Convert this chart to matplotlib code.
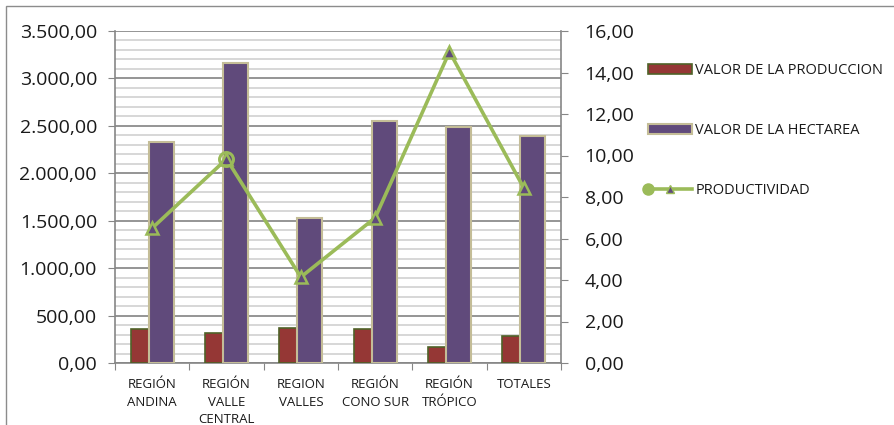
import matplotlib
matplotlib.use("Agg")
import matplotlib.pyplot as plt
import numpy as np
from matplotlib.ticker import MultipleLocator, FuncFormatter
from matplotlib.lines import Line2D
from matplotlib.patches import Rectangle
from matplotlib.legend_handler import HandlerBase

plt.rcParams['font.family'] = ['Open Sans', 'DejaVu Sans']

categories = ["REGIÓN\nANDINA", "REGIÓN\nVALLE\nCENTRAL", "REGION\nVALLES",
              "REGIÓN\nCONO SUR", "REGIÓN\nTRÓPICO", "TOTALES"]
valor_produccion = [355, 320, 366, 362, 165, 285]
valor_hectarea = [2326, 3159, 1528, 2551, 2491, 2393]
productividad = [6.50, 9.83, 4.14, 7.00, 15.00, 8.43]

RED = "#953735"
RED_EDGE = "#4F6228"
PURPLE = "#604A7B"
PURPLE_EDGE = "#C4BD97"
GREEN = "#9BBB59"
AXGRAY = "#868686"


def es_fmt(v, pos=None):
    s = f"{v:,.2f}"
    return s.replace(",", "X").replace(".", ",").replace("X", ".")


fig = plt.figure(figsize=(8.95, 4.25), dpi=100)
ax = fig.add_axes([115 / 895, 1 - 363 / 425, (561 - 115) / 895, (363 - 31) / 425])

x = np.arange(len(categories))
bw = 0.335
off = 0.121
ax.bar(x - off, valor_produccion, width=bw, color=RED, edgecolor=RED_EDGE, linewidth=1.2,
       zorder=3, label="VALOR DE LA PRODUCCION")
ax.bar(x + off, valor_hectarea, width=bw, color=PURPLE, edgecolor=PURPLE_EDGE, linewidth=1.5,
       zorder=4, label="VALOR DE LA HECTAREA")

ax.set_xlim(-0.5, len(categories) - 0.5)
ax.set_ylim(0, 3500)
ax.yaxis.set_major_locator(MultipleLocator(500))
ax.yaxis.set_minor_locator(MultipleLocator(100))
ax.yaxis.set_major_formatter(FuncFormatter(es_fmt))
ax.grid(which='major', axis='y', color="#8C8C8C", linewidth=1.3, zorder=0)
ax.grid(which='minor', axis='y', color="#D4D4D4", linewidth=1.3, zorder=0)
ax.set_axisbelow(True)

ax.set_xticks(np.arange(-0.5, len(categories), 1.0))
ax.set_xticklabels([])
ax.set_xticks(x, minor=True)
ax.set_xticklabels(categories, minor=True, fontsize=9.5, color="#1a1a1a", linespacing=1.45)
ax.tick_params(axis='x', which='major', length=5, color=AXGRAY, direction='out')
ax.tick_params(axis='x', which='minor', length=0, pad=11)
ax.tick_params(axis='y', which='major', length=5, color=AXGRAY, labelsize=14, pad=8,
               labelcolor="#1a1a1a")
ax.tick_params(axis='y', which='minor', length=0)

for s in ['left', 'bottom']:
    ax.spines[s].set_color(AXGRAY)
    ax.spines[s].set_linewidth(1.2)
ax.spines['top'].set_visible(False)
ax.spines['right'].set_visible(False)

ax2 = ax.twinx()
ax2.plot(x, productividad, color=GREEN, linewidth=2.6, zorder=5,
         marker='^', markersize=9, markerfacecolor=PURPLE, markeredgecolor=GREEN,
         markeredgewidth=1.8, label="PRODUCTIVIDAD")
ax2.plot(x[1:2], productividad[1:2], linestyle='none', marker='o', markersize=10,
         markerfacecolor='none', markeredgecolor=GREEN, markeredgewidth=2.2, zorder=6)
ax2.set_ylim(0, 16)
ax2.yaxis.set_major_locator(MultipleLocator(2))
ax2.yaxis.set_major_formatter(FuncFormatter(es_fmt))
ax2.tick_params(axis='y', length=5, color=AXGRAY, labelsize=14, pad=12, labelcolor="#1a1a1a")
ax2.spines['right'].set_color(AXGRAY)
ax2.spines['right'].set_linewidth(1.2)
for s in ['left', 'bottom', 'top']:
    ax2.spines[s].set_visible(False)


class HandlerProd(HandlerBase):
    def create_artists(self, legend, orig_handle, xdescent, ydescent, width, height,
                       fontsize, trans):
        y = height / 2 - ydescent
        line = Line2D([-xdescent, width - xdescent], [y, y], color=GREEN, linewidth=2.6)
        circ = Line2D([-xdescent], [y], marker='o', markersize=8, color=GREEN,
                      markerfacecolor=GREEN, markeredgecolor=GREEN)
        tri = Line2D([width / 2 - xdescent], [y], marker='^', markersize=6,
                     markerfacecolor=PURPLE, markeredgecolor=GREEN, markeredgewidth=1)
        for a in (line, circ, tri):
            a.set_transform(trans)
        return [line, circ, tri]


h1, l1 = ax.get_legend_handles_labels()
prod_handle = Line2D([], [], color=GREEN)
handles = h1 + [prod_handle]
labels = l1 + ["PRODUCTIVIDAD"]
fig.legend(handles, labels, loc='upper left', bbox_to_anchor=(648 / 895, 1 - 63 / 425),
           frameon=False, fontsize=10.5, handlelength=3.0, handleheight=0.7,
           handletextpad=0.25, labelspacing=3.1, borderpad=0, borderaxespad=0,
           handler_map={prod_handle: HandlerProd()}, labelcolor="#1a1a1a")

fig.patches.append(Rectangle((6 / 895, -0.1), 2, 1.1 - 6 / 425, transform=fig.transFigure,
                             fill=False, edgecolor="#8C8C8C", linewidth=1.0, clip_on=False))

fig.savefig("out.png", dpi=100)
